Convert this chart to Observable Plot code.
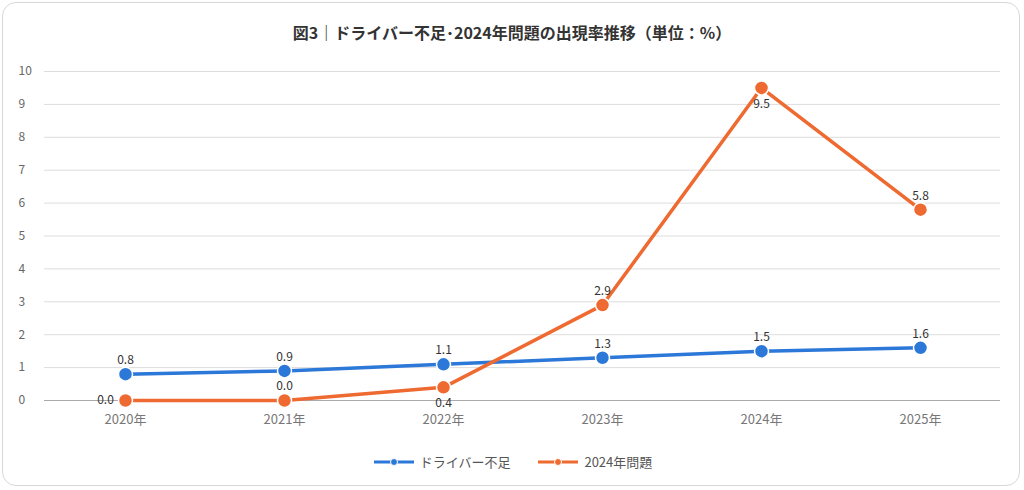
<!DOCTYPE html>
<html><head><meta charset="utf-8">
<script src="https://cdn.jsdelivr.net/npm/d3@7"></script>
<script src="https://cdn.jsdelivr.net/npm/@observablehq/plot@0.6"></script>
<style>
body{margin:0;background:#fff;font-family:"Noto Sans CJK JP","Noto Sans",sans-serif;}
#box{position:absolute;left:2px;top:2px;width:1018px;height:484px;border:1px solid #d8d8d8;border-radius:14px;box-sizing:border-box;}
#title{position:absolute;top:20px;width:1024px;text-align:center;font-weight:bold;font-size:16px;color:#333;}
#chart{position:absolute;top:55px;left:0;}
#legend{position:absolute;top:452px;width:1024px;display:flex;justify-content:center;gap:26px;font-size:13px;color:#555;}
.li{display:flex;align-items:center;gap:4px;}
</style></head><body>
<div id="box"></div>
<div id="title">図3｜ドライバー不足･2024年問題の出現率推移（単位：%）</div>
<div id="chart"></div>
<div id="legend"></div>
<script>
const years=["2020年","2021年","2022年","2023年","2024年","2025年"];
const series=["ドライバー不足","2024年問題"];
const colors=["#2b78d8","#ee6a31"];
const driver=[0.8,0.9,1.1,1.3,1.5,1.6];
const y2024=[0.0,0.0,0.4,2.9,9.5,5.8];
const yTicks=[0,1,2,3,4,5,6,7,8,9,10];
const data=[];
years.forEach((y,i)=>{data.push({year:y,s:series[0],v:driver[i],i});data.push({year:y,s:series[1],v:y2024[i],i});});
const below=new Set([2,4]);
const fmt=d=>d.v.toFixed(1);
const o=data.filter(d=>d.s===series[1]);
const plot=Plot.plot({
 width:1024,height:390,marginTop:16,marginBottom:45,marginLeft:44,marginRight:24,
 style:{fontFamily:"'Noto Sans CJK JP','Noto Sans',sans-serif",fontSize:"12px",color:"#666"},
 x:{type:"point",domain:years,padding:0.5,label:null},
 y:{domain:[0,10],label:null},
 color:{domain:series,range:colors},
 marks:[
  Plot.gridY(yTicks,{stroke:"#ddd",strokeOpacity:1}),
  Plot.ruleY([0],{stroke:"#aaa"}),
  Plot.axisY(yTicks,{tickSize:0,tickPadding:0,textAnchor:"start",dx:-26,fill:"#666",fontSize:12}),
  Plot.axisX({tickSize:0,tickPadding:14,fill:"#777",fontSize:13}),
  Plot.line(data,{x:"year",y:"v",z:"s",stroke:"s",strokeWidth:3.5}),
  Plot.dot(data,{x:"year",y:"v",fill:"s",r:7,stroke:"white",strokeWidth:1.5}),
  Plot.text(data.filter(d=>d.s===series[0]),{x:"year",y:"v",text:fmt,dy:-14,fill:"#333",fontSize:12}),
  Plot.text(o.filter(d=>d.i===0),{x:"year",y:"v",text:fmt,dx:-20,fill:"#333",fontSize:12}),
  Plot.text(o.filter(d=>d.i!==0&&!below.has(d.i)),{x:"year",y:"v",text:fmt,dy:-14,fill:"#333",fontSize:12}),
  Plot.text(o.filter(d=>below.has(d.i)),{x:"year",y:"v",text:fmt,dy:16,fill:"#333",fontSize:12})
 ]});
document.getElementById("chart").append(plot);
const lg=document.getElementById("legend");
series.forEach((s,i)=>{lg.insertAdjacentHTML("beforeend",`<div class="li"><svg width="44" height="12"><line x1="2" x2="42" y1="6" y2="6" stroke="${colors[i]}" stroke-width="3"/><circle cx="22" cy="6" r="3.5" fill="${colors[i]}" stroke="white"/></svg><span>${s}</span></div>`);});
</script></body></html>
